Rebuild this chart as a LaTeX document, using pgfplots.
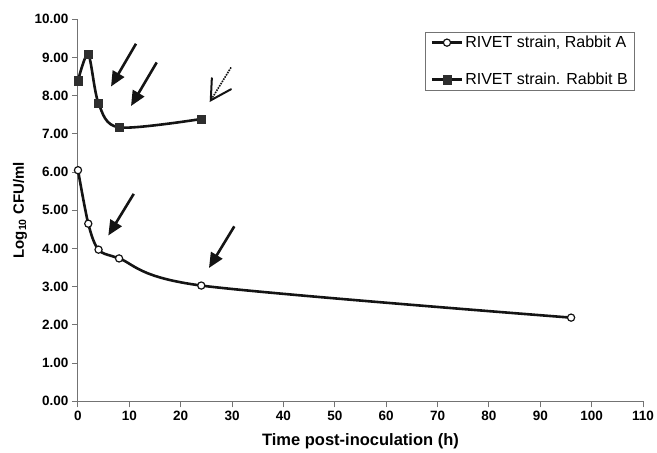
\documentclass[border=0pt]{standalone}
\usepackage{fontspec}
\setmainfont{Liberation Sans}
\usepackage{pgfplots}
\pgfplotsset{compat=1.18}
\usetikzlibrary{arrows.meta}

\definecolor{axisgray}{gray}{0.45}
\definecolor{linedark}{gray}{0.08}
\definecolor{markdark}{gray}{0.18}

\begin{document}
\begin{tikzpicture}
\begin{axis}[
    at={(0,0)}, anchor=south west,
    scale only axis,
    width=565bp, height=382bp,
    xmin=0, xmax=110,
    ymin=0, ymax=10,
    axis x line=bottom, axis y line=left,
    axis line style={-, axisgray, line width=1bp},
    xtick={0,10,...,110},
    ytick={0,1,...,10},
    tick align=outside,
    major tick length=6bp,
    tick style={axisgray, line width=1bp},
    /pgf/number format/assume math mode=true,
    ticklabel style={font=\bfseries\fontsize{13.5bp}{16bp}\selectfont, text=black},
    yticklabel style={/pgf/number format/.cd, fixed, fixed zerofill, precision=2},
    xlabel={Time post-inoculation (h)},
    xlabel style={at={(axis description cs:0.5,-0.105)}, anchor=center,
                  font=\bfseries\fontsize{16.5bp}{19bp}\selectfont},
    ylabel={Log\textsubscript{10} CFU/ml},
    ylabel style={at={(axis description cs:-0.1027,0.5)}, anchor=center,
                  font=\bfseries\fontsize{15bp}{18bp}\selectfont},
    legend image code/.code={%
        \draw[mark repeat=2,mark phase=2,#1]
        plot coordinates {(0bp,0bp)(15bp,0bp)(30bp,0bp)};},
    legend style={at={(rel axis cs:0.986,0.9675)}, anchor=north east,
                  draw=axisgray, line width=0.8bp,
                  font=\fontsize{16bp}{19bp}\selectfont,
                  row sep=20bp, inner xsep=5bp, inner ysep=2bp},
    legend cell align=left,
    clip=false,
]

% Rabbit A
\addplot[linedark, line width=2.6bp, smooth, mark=*, mark size=3.6bp,
         mark options={fill=white, draw=linedark, line width=1.2bp}]
  coordinates {(0,6.05) (2,4.65) (4,3.97) (8,3.74) (24,3.03) (96,2.19)};

% Rabbit B
\addplot[linedark, line width=2.6bp, smooth, mark=square*, mark size=4.2bp,
         mark options={fill=markdark, draw=markdark, line width=0.5bp}]
  coordinates {(0,8.39) (2,9.08) (4,7.80) (8,7.17) (24,7.39)};

\legend{RIVET strain{,} Rabbit A, RIVET strain. Rabbit B}

% arrows
\draw[-{Triangle[length=15bp,width=13bp]}, line width=2.6bp, linedark]
  (axis cs:11.29,9.36) -- (axis cs:6.43,8.24);
\draw[-{Triangle[length=15bp,width=13bp]}, line width=2.6bp, linedark]
  (axis cs:15.32,8.87) -- (axis cs:10.32,7.73);
\draw[-{Triangle[length=15bp,width=13bp]}, line width=2.6bp, linedark]
  (axis cs:10.85,5.43) -- (axis cs:5.9,4.34);
\draw[-{Triangle[length=15bp,width=13bp]}, line width=2.6bp, linedark]
  (axis cs:30.43,4.58) -- (axis cs:25.5,3.49);
% dotted arrow with open head
\draw[densely dotted, line width=1.6bp, linedark]
  (axis cs:29.8,8.74) -- (axis cs:25.85,7.88);
\draw[line width=2bp, linedark, line cap=round, line join=miter]
  (axis cs:26.06,8.46) -- (axis cs:25.85,7.88) -- (axis cs:29.8,8.17);
\end{axis}
\pgfresetboundingbox
\path[use as bounding box] (-78bp,-51.7bp) rectangle (579bp,401.3bp);
\end{tikzpicture}
\end{document}
